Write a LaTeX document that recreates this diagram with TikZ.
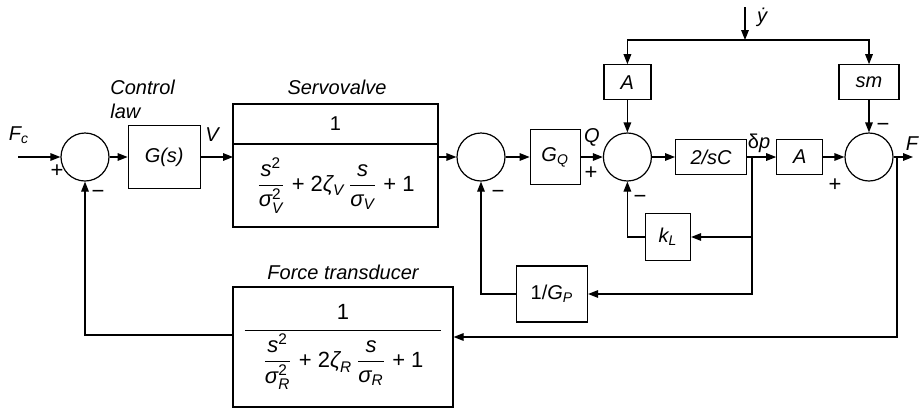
\documentclass[tikz,border=0pt]{standalone}
\usepackage{amsmath}
\usepackage{fontspec}
\setmainfont{Liberation Sans}
\usetikzlibrary{arrows.meta, positioning, calc}
\newcommand{\vi}[1]{\text{\itshape #1}}
\newcommand{\vn}[1]{\text{#1}}
\newcommand{\sodenom}[1]{\dfrac{\vi{s}^{\vn{2}}}{\vi{σ}^{\vn{2}}_{\vi{#1}}}\;\vn{+}\;\vn{2}\vi{ζ}_{\vi{#1}}\,\dfrac{\vi{s}}{\vi{σ}_{\vi{#1}}}\;\vn{+}\;\vn{1}}
\tikzset{
  blk/.style={draw, line width=0.6pt, align=center, inner sep=0pt, minimum height=17.5pt},
  sumc/.style={draw, line width=0.6pt, circle, minimum size=24pt, inner sep=0pt},
  lbl/.style={inner sep=0pt, font=\itshape},
  sgn/.style={inner sep=0pt, font=\fontsize{11}{13}\selectfont},
  frm/.style={font=\fontsize{11}{13}\selectfont},
  arr/.style={-{Triangle[length=5pt,width=3.8pt]}, line width=0.6pt}
}
\begin{document}
\begin{tikzpicture}[x=0.5pt, y=-0.5pt, font=\fontsize{10}{12}\selectfont]
  \useasboundingbox (0,0) rectangle (920,408);
  % forward path
  \coordinate (fin) at (18,157);
  \node[sumc] (c1) at (85,157) {};
  \node[blk, minimum width=36pt, minimum height=31.5pt, right=9pt of c1] (gs) {\itshape G(s)};
  \node[blk, outer sep=0pt, minimum width=102.5pt, minimum height=20pt] (svt) at (335.5,124) {1};
  \node[blk, frm, outer sep=0pt, minimum width=102.5pt, minimum height=41.5pt, below=0pt of svt] (svb) {$\sodenom{V}$};
  \node[sumc] (c2) at (481,157) {};
  \node[blk, minimum width=25pt, minimum height=27.5pt, right=12pt of c2] (gq) {$\vi{G}_{\vi{Q}}$};
  \node[sumc, right=11pt of gq] (c3) {};
  \node[blk, minimum width=35.5pt, right=11.5pt of c3] (sc) {\itshape 2/sC};
  \node[blk, minimum width=23pt, right=14.5pt of sc] (a2) {\itshape A};
  \node[sumc, right=10.5pt of a2] (c4) {};
  \coordinate (jd) at (752,157);
  \coordinate (jf) at (897,157);
  \coordinate (fout) at (913,157);
  % disturbance branch
  \node[blk, minimum width=23.5pt, above=16pt of c3] (a1) {\itshape A};
  \node[blk, minimum width=30pt, above=16pt of c4] (sm) {\itshape sm};
  \coordinate (ysrc) at (745,7);
  \coordinate (yj) at (745,40);
  % feedback blocks
  \node[blk, minimum width=22.5pt, minimum height=23.5pt] (kl) at (668,237) {$\vi{k}_{\vi{L}}$};
  \node[blk, minimum width=35.5pt, minimum height=28pt] (gp) at (552,294) {1/$\vi{G}_{\vi{P}}$};
  \node[blk, frm, minimum width=110pt, minimum height=60pt] (ft) at (343,347)
    {$\dfrac{\vn{1}\rule[-4pt]{0pt}{8pt}}{\hspace{9pt}\sodenom{R}\hspace{9pt}}$};
  % labels
  \node[lbl] at (19,135) {$\vi{F}_{\vi{c}}$};
  \node[lbl, anchor=west, align=left] at (110,99) {Control\\law};
  \node[lbl] at (212,135) {V};
  \node[lbl] at (337,87) {Servovalve};
  \node[lbl] at (343,272) {Force transducer};
  \node[lbl] at (592,137) {Q};
  \node[lbl] at (762,17) {\.y};
  \node[inner sep=0pt] at (759,143) {δ\textit{p}};
  \node[lbl] at (912,144) {F};
  \node[sgn] at (57,171) {+};
  \node[sgn] at (98,194) {−};
  \node[sgn] at (498,194) {−};
  \node[sgn] at (591,173) {+};
  \node[sgn] at (640,199) {−};
  \node[sgn] at (883,127) {−};
  \node[sgn] at (835,185) {+};
  % connectors
  \draw[arr] (fin) -- (c1);
  \draw[arr] (c1) -- (gs);
  \draw[arr] (gs) -- (gs -| svb.west);
  \draw[arr] (svb.east |- c2) -- (c2);
  \draw[arr] (c2) -- (gq); \draw[arr] (gq) -- (c3); \draw[arr] (c3) -- (sc);
  \draw[arr] (sc) -- (a2); \draw[arr] (a2) -- (c4); \draw[arr] (c4) -- (fout);
  \draw[arr] (ysrc) -- (yj);
  \draw[arr] (yj) -| (a1); \draw[arr] (yj) -| (sm);
  \draw[arr] (a1) -- (c3); \draw[arr] (sm) -- (c4);
  \draw[arr] (jd |- kl) -- (kl);
  \draw[arr] (jd) |- (gp);
  \draw[arr] (kl) -| (c3);
  \draw[arr] (gp) -| (c2);
  \draw[arr] (jf) |- ([yshift=5pt]ft.east);
  \draw[arr] ([yshift=6pt]ft.west) -| (c1);
\end{tikzpicture}
\end{document}
